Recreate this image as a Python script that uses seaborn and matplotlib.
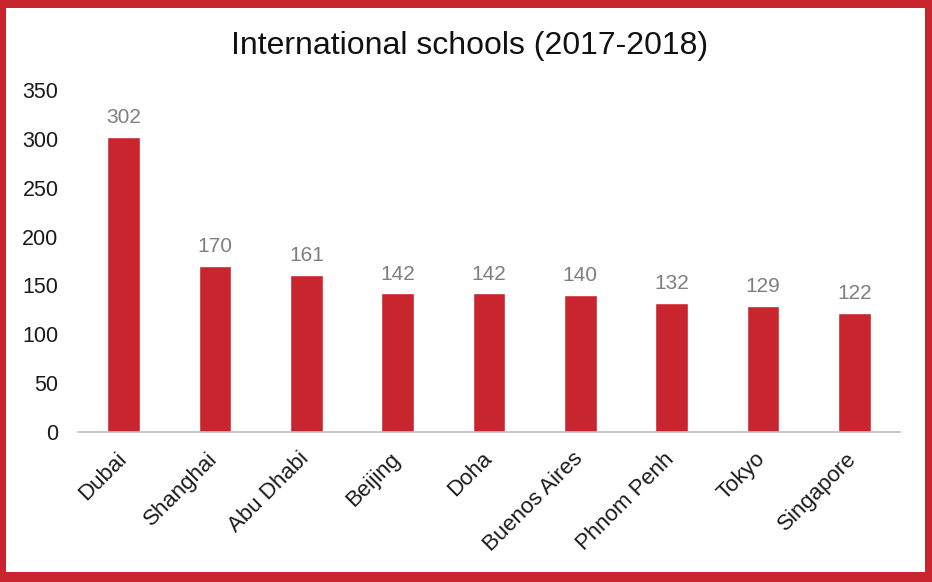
import matplotlib
matplotlib.use("Agg")
import matplotlib.pyplot as plt
from matplotlib.patches import Rectangle
from matplotlib.transforms import ScaledTranslation
import seaborn as sns
import pandas as pd

cities = ["Dubai", "Shanghai", "Abu Dhabi", "Beijing", "Doha",
          "Buenos Aires", "Phnom Penh", "Tokyo", "Singapore"]
schools = [302, 170, 161, 142, 142, 140, 132, 129, 122]
yticks = [0, 50, 100, 150, 200, 250, 300, 350]
title = "International schools (2017-2018)"

sns.set_theme(style="white")
plt.rcParams["font.family"] = ["Liberation Sans", "DejaVu Sans"]

RED = "#C8252F"
df = pd.DataFrame({"city": cities, "schools": schools})

W, H = 932, 582
fig = plt.figure(figsize=(W / 100, H / 100), dpi=100)
fig.patch.set_facecolor("white")
ax = fig.add_axes([78 / W, 1 - 432 / H, (900 - 78) / W, (432 - 90) / H])

sns.barplot(data=df, x="city", y="schools", color=RED, saturation=1,
            width=0.36, ax=ax)

for i, v in enumerate(schools):
    ax.annotate(str(v), (i, v), xytext=(0, 7), textcoords="offset points",
                ha="center", va="bottom", fontsize=15, color="#7F7F7F")

ax.set_ylim(0, 350)
ax.set_yticks(yticks)
ax.set_yticklabels([str(t) for t in yticks], fontsize=15.5, color="#1a1a1a")
ax.set_xlabel("")
ax.set_ylabel("")
ax.tick_params(axis="y", length=0, pad=14)
ax.tick_params(axis="x", length=0, pad=6)
offset = ScaledTranslation(-8 / 100, -8 / 100, fig.dpi_scale_trans)
for lab in ax.get_xticklabels():
    lab.set_rotation(45)
    lab.set_ha("right")
    lab.set_rotation_mode("anchor")
    lab.set_fontsize(16)
    lab.set_color("#1a1a1a")
    lab.set_transform(lab.get_transform() + offset)
for s in ["top", "right", "left"]:
    ax.spines[s].set_visible(False)
ax.spines["bottom"].set_color("#BFBFBF")
ax.spines["bottom"].set_linewidth(1.2)

fig.text(470 / W, 1 - 46 / H, title, ha="center", va="center",
         fontsize=23, color="#111111")

# red frame
for (x0, y0, w, h) in [(0, 0, 6, H), (W - 7, 0, 7, H), (0, 0, W, 8), (0, H - 10, W, 10)]:
    fig.patches.append(Rectangle((x0 / W, 1 - (y0 + h) / H), w / W, h / H,
                                 transform=fig.transFigure, facecolor=RED,
                                 edgecolor="none", zorder=10))

fig.savefig("out.png", dpi=100)
